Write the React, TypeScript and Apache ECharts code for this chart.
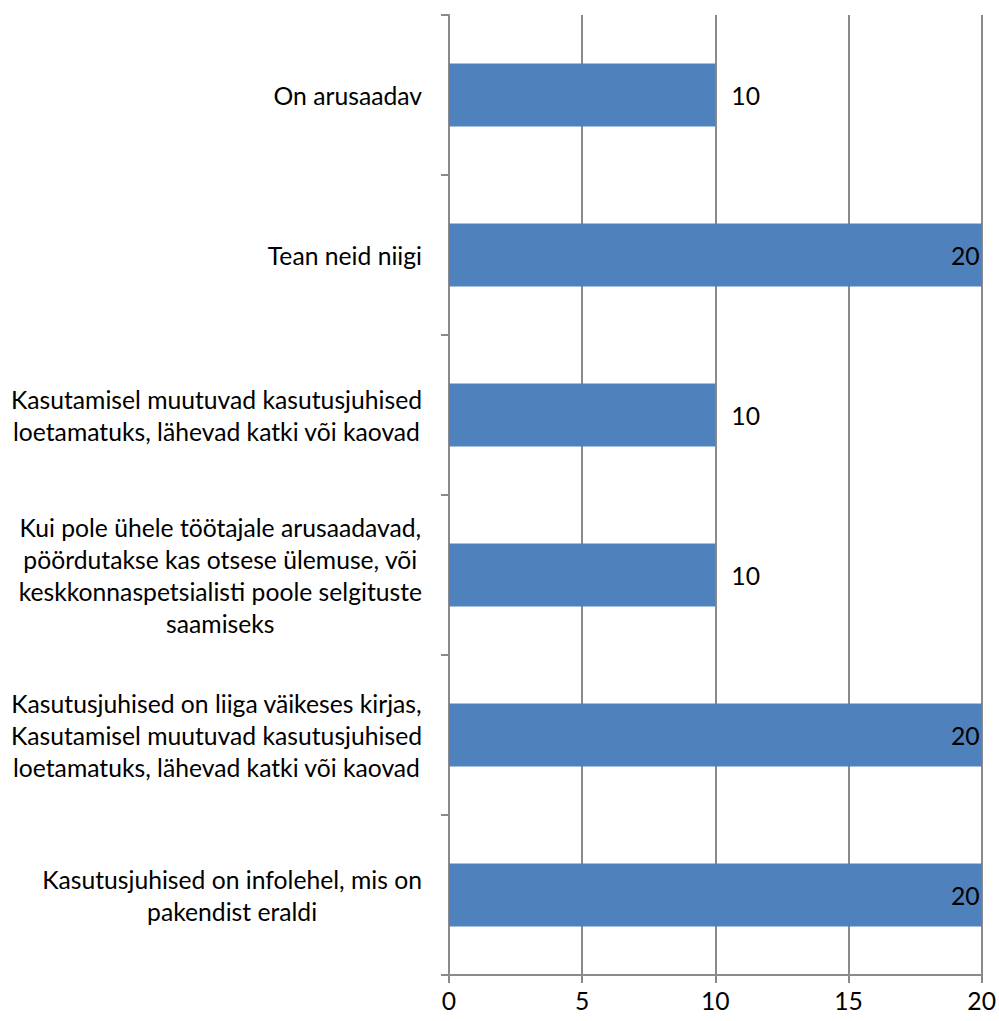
import React, { useEffect, useRef } from "react";
import * as echarts from "echarts";

const categories: string[] = [
  "On arusaadav",
  "Tean neid niigi",
  "Kasutamisel muutuvad kasutusjuhised\nloetamatuks, lähevad katki või kaovad",
  "Kui pole ühele töötajale arusaadavad,\npöördutakse kas otsese ülemuse, või\nkeskkonnaspetsialisti poole selgituste\nsaamiseks",
  "Kasutusjuhised on liiga väikeses kirjas,\nKasutamisel muutuvad kasutusjuhised\nloetamatuks, lähevad katki või kaovad",
  "Kasutusjuhised on infolehel, mis on\npakendist eraldi",
];
const values: number[] = [10, 20, 10, 10, 20, 20];
const xMin = 0;
const xMax = 20;
const xInterval = 5;

const FONT = "Lato";
const FS = 24.7;
const AXIS_COLOR = "#8a8a8a";
const BAR_COLOR = "#4F81BD";

export default function App() {
  const ref = useRef<HTMLDivElement>(null);
  useEffect(() => {
    if (!ref.current) return;
    const chart = echarts.init(ref.current, undefined, { renderer: "svg" });
    chart.setOption({
      animation: false,
      backgroundColor: "#ffffff",
      grid: { left: 449, right: 17, top: 15, bottom: 46, containLabel: false },
      xAxis: {
        type: "value",
        min: xMin,
        max: xMax,
        interval: xInterval,
        axisLine: { show: true, lineStyle: { color: AXIS_COLOR, width: 2 } },
        axisTick: { show: true, length: 8, lineStyle: { color: AXIS_COLOR, width: 2 } },
        splitLine: { show: true, lineStyle: { color: AXIS_COLOR, width: 2 } },
        axisLabel: { color: "#000", fontFamily: FONT, fontSize: FS, margin: 13 },
      },
      yAxis: {
        type: "category",
        inverse: true,
        data: categories,
        axisLine: { show: true, lineStyle: { color: AXIS_COLOR, width: 2 } },
        axisTick: { show: true, length: 8, lineStyle: { color: AXIS_COLOR, width: 2 } },
        axisLabel: {
          margin: 27,
          align: "right",
          fontFamily: FONT,
          fontSize: FS,
          color: "#000",
          lineHeight: 32,
          formatter: (v: string) =>
            v
              .split("\n")
              .map((l) => `{c|${l}}`)
              .join("\n"),
          rich: {
            c: {
              align: "center",
              fontFamily: FONT,
              fontSize: FS,
              color: "#000",
              lineHeight: 32,
            },
          },
        },
      },
      series: [
        {
          type: "bar",
          barWidth: 63,
          itemStyle: { color: BAR_COLOR },
          data: values.map((v) => ({
            value: v,
            label:
              v >= xMax
                ? { position: "insideRight", distance: 2 }
                : { position: "right", distance: 16 },
          })),
          label: {
            show: true,
            color: "#000",
            fontFamily: FONT,
            fontSize: FS,
          },
        },
      ],
    });
    return () => chart.dispose();
  }, []);
  return (
    <div
      ref={ref}
      style={{ position: "absolute", left: 0, top: 0, width: 999, height: 1021 }}
    />
  );
}
